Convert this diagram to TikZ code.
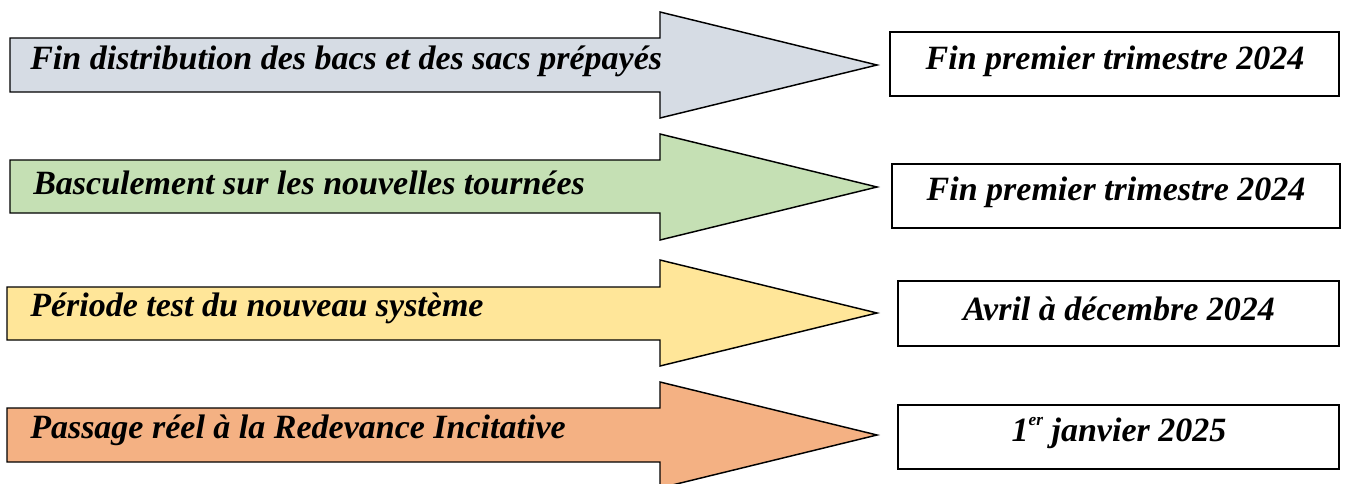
\documentclass[tikz,border=0pt]{standalone}
\usepackage{fontspec}
\setmainfont{Liberation Serif}
\definecolor{cgrey}{HTML}{D6DCE4}
\definecolor{cgreen}{HTML}{C5E0B4}
\definecolor{cyellow}{HTML}{FFE699}
\definecolor{corange}{HTML}{F4B183}
\tikzset{
  arrowshape/.style={draw=black, line width=1.1pt, line join=miter},
  arrowtext/.style={anchor=west, inner sep=0pt, font=\fontsize{25.5}{28}\selectfont\bfseries\itshape},
  datebox/.style={draw=black, line width=1.1pt, fill=white, inner sep=0pt},
  datetext/.style={inner sep=0pt, font=\fontsize{25.5}{28}\selectfont\bfseries\itshape}
}
\begin{document}
\begin{tikzpicture}[x=0.75pt, y=-0.75pt]
\useasboundingbox (0,0) rectangle (1346,483);
% arrow 1
\draw[arrowshape, fill=cgrey] (10,38) -- (660,38) -- (660,12) -- (877,65) -- (660,118) -- (660,92) -- (10,92) -- cycle;
\node[arrowtext] (t1) at (30,61) {Fin distribution des bacs et des sacs prépayés};
\node[datebox, minimum width=449*0.75pt, minimum height=64*0.75pt] (b1) at (1114.5,64) {};
\node[datetext] (d1) at (1115,61) {Fin premier trimestre 2024};
% arrow 2
\draw[arrowshape, fill=cgreen] (10,160) -- (660,160) -- (660,134) -- (877,187) -- (660,240) -- (660,213) -- (10,213) -- cycle;
\node[arrowtext] (t2) at (33,183) {Basculement sur les nouvelles tournées};
\node[datebox, minimum width=448*0.75pt, minimum height=64*0.75pt] (b2) at (1116,196) {};
\node[datetext] (d2) at (1116,192) {Fin premier trimestre 2024};
% arrow 3
\draw[arrowshape, fill=cyellow] (7,287) -- (660,287) -- (660,260) -- (877,313) -- (660,366) -- (660,340) -- (7,340) -- cycle;
\node[arrowtext] (t3) at (30,308) {Période test du nouveau système};
\node[datebox, minimum width=441*0.75pt, minimum height=65*0.75pt] (b3) at (1118.5,313.5) {};
\node[datetext] (d3) at (1119,309) {Avril à décembre 2024};
% arrow 4
\draw[arrowshape, fill=corange] (7,408) -- (660,408) -- (660,382) -- (877,435) -- (660,488) -- (660,462) -- (7,462) -- cycle;
\node[arrowtext] (t4) at (30,430) {Passage réel à la Redevance Incitative};
\node[datebox, minimum width=441*0.75pt, minimum height=64*0.75pt] (b4) at (1118.5,437) {};
\node[datetext] (d4) at (1119,433) {1\raisebox{0.45em}{\fontsize{13}{14}\selectfont er} janvier 2025};
\end{tikzpicture}
\end{document}
